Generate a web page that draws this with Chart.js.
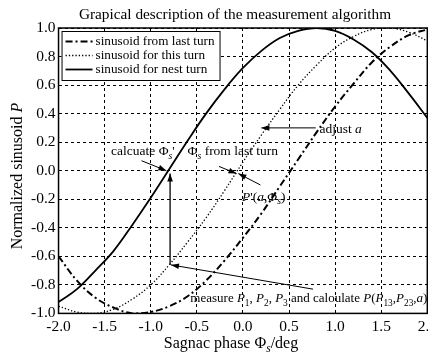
<!DOCTYPE html>
<html>
<head>
<meta charset="utf-8">
<script src="https://cdn.jsdelivr.net/npm/chart.js@4.4.0/dist/chart.umd.min.js"></script>
<style>
  html, body { margin: 0; padding: 0; background: #fff; overflow: hidden; }
  canvas { display: block; }
</style>
</head>
<body>
<canvas id="chart" width="441" height="352"></canvas>
<script>
// Sagnac phase (deg) sampled along the x axis
const phase = [-2.0, -1.8, -1.6, -1.4, -1.2, -1.0, -0.8, -0.6, -0.4, -0.2, 0.0,
               0.2, 0.4, 0.6, 0.8, 1.0, 1.2, 1.4, 1.6, 1.8, 2.0];
// values
const lastTurn = [-0.60, -0.77, -0.89, -0.96, -1.00, -0.99, -0.95, -0.88, -0.77, -0.63, -0.47,
                  -0.30, -0.11, 0.08, 0.27, 0.45, 0.61, 0.76, 0.87, 0.95, 0.99];
const thisTurn = [-0.95, -0.99, -1.00, -0.97, -0.90, -0.80, -0.66, -0.50, -0.33, -0.14, 0.06,
                  0.25, 0.43, 0.60, 0.74, 0.86, 0.94, 0.99, 1.00, 0.97, 0.91];
const nextTurn = [-0.92, -0.83, -0.70, -0.56, -0.38, -0.19, 0.01, 0.21, 0.40, 0.57, 0.72,
                  0.84, 0.93, 0.98, 1.00, 0.98, 0.92, 0.83, 0.70, 0.54, 0.37];
const seriesNames = ['sinusoid from last turn', 'sinusoid for this turn', 'sinusoid for nest turn'];
const xTickLabels = ['-2.0', '-1.5', '-1.0', '-0.5', '0.0', '0.5', '1.0', '1.5', '2.0'];
const yTickLabels = ['-1.0', '-0.8', '-0.6', '-0.4', '-0.2', '0.0', '0.2', '0.4', '0.6', '0.8', '1.0'];

const SERIF = '"Liberation Serif", "DejaVu Serif", serif';

// text pieces: '' plain, 'i' italic, 'sub' subscript, 'isub' italic subscript
const notes = [
    { at: [-1.43, 0.11], size: 13.5, parts: [['calcuate ', ''], ['Φ', ''], ['s', 'isub'], ["'", '']] },
    { at: [-0.60, 0.11], size: 13.5, parts: [['Φ', ''], ['s', 'isub'], [' from last turn', '']] },
    { at: [-0.01, -0.21], size: 13.5, parts: [['P', 'i'], ["'(", ''], ['a', 'i'], [',Φ', ''], ['s', 'isub'], [')', '']] },
    { at: [0.83, 0.265], size: 13.5, parts: [['adjust ', ''], ['a', 'i']] },
    { at: [-0.57, -0.92], size: 13, parts: [['measure ', ''], ['P', 'i'], ['1', 'sub'], [', ', ''], ['P', 'i'], ['2', 'sub'],
        [', ', ''], ['P', 'i'], ['3', 'sub'], [' and caloulate ', ''], ['P', 'i'], ['(', ''], ['P', 'i'], ['13', 'sub'],
        [',', ''], ['P', 'i'], ['23', 'sub'], [',', ''], ['a', 'i'], [')', '']] }
];
const arrows = [
    { from: [-1.10, 0.07], to: [-0.83, 0.0], w: 1 },
    { from: [-0.79, -0.66], to: [-0.79, -0.02], w: 1.3 },
    { from: [-0.26, 0.03], to: [-0.07, -0.02], w: 1 },
    { from: [0.19, -0.10], to: [-0.05, -0.02], w: 1 },
    { from: [0.79, 0.30], to: [0.20, 0.30], w: 1 },
    { from: [0.76, -0.83], to: [-0.78, -0.66], w: 1 }
];

function drawRich(ctx, parts, x, y, size, align) {
    const fontOf = (st) => {
        const s = st.includes('sub') ? size * 0.72 : size;
        return (st.includes('i') ? 'italic ' : '') + s + 'px ' + SERIF;
    };
    let total = 0;
    parts.forEach(([t, st]) => { ctx.font = fontOf(st); total += ctx.measureText(t).width; });
    let cx = align === 'center' ? x - total / 2 : x;
    ctx.textAlign = 'left';
    ctx.textBaseline = 'alphabetic';
    parts.forEach(([t, st]) => {
        ctx.font = fontOf(st);
        const dy = st.includes('sub') ? size * 0.28 : 0;
        ctx.fillText(t, cx, y + dy);
        cx += ctx.measureText(t).width;
    });
}

function arrowHead(ctx, x1, y1, x2, y2) {
    const ang = Math.atan2(y2 - y1, x2 - x1);
    const len = 8, half = 2.8;
    ctx.beginPath();
    ctx.moveTo(x2, y2);
    ctx.lineTo(x2 - len * Math.cos(ang) + half * Math.sin(ang), y2 - len * Math.sin(ang) - half * Math.cos(ang));
    ctx.lineTo(x2 - len * Math.cos(ang) - half * Math.sin(ang), y2 - len * Math.sin(ang) + half * Math.cos(ang));
    ctx.closePath();
    ctx.fill();
}

const decorations = {
    id: 'decorations',
    afterDatasetsDraw(chart) {
        const { ctx, chartArea: a, scales: { x, y } } = chart;
        ctx.save();
        ctx.fillStyle = '#000';
        ctx.strokeStyle = '#000';

        // arrows
        arrows.forEach(ar => {
            const x1 = x.getPixelForValue(ar.from[0]), y1 = y.getPixelForValue(ar.from[1]);
            const x2 = x.getPixelForValue(ar.to[0]), y2 = y.getPixelForValue(ar.to[1]);
            ctx.lineWidth = ar.w;
            ctx.setLineDash([]);
            ctx.beginPath();
            ctx.moveTo(x1, y1);
            ctx.lineTo(x2, y2);
            ctx.stroke();
            arrowHead(ctx, x1, y1, x2, y2);
        });

        // annotation texts
        notes.forEach(n => {
            drawRich(ctx, n.parts, x.getPixelForValue(n.at[0]), y.getPixelForValue(n.at[1]), n.size, 'left');
        });

        // legend box in the upper left corner
        const lx = a.left + 3, ly = a.top + 3, lw = 158, lh = 49;
        ctx.fillStyle = '#fff';
        ctx.fillRect(lx, ly, lw, lh);
        ctx.lineWidth = 1;
        ctx.strokeRect(lx + 0.5, ly + 0.5, lw, lh);
        chart.data.datasets.forEach((ds, i) => {
            const ry = ly + 10.5 + i * 14;
            ctx.strokeStyle = '#000';
            ctx.lineWidth = ds.borderWidth;
            ctx.setLineDash(ds.borderDash || []);
            ctx.beginPath();
            ctx.moveTo(lx + 4, ry);
            ctx.lineTo(lx + 31, ry);
            ctx.stroke();
            ctx.setLineDash([]);
            ctx.fillStyle = '#000';
            ctx.font = '13.2px ' + SERIF;
            ctx.textBaseline = 'middle';
            ctx.textAlign = 'left';
            ctx.fillText(ds.label, lx + 34, ry);
        });
        ctx.restore();
    },
    afterDraw(chart) {
        const { ctx, chartArea: a } = chart;
        ctx.save();
        ctx.strokeStyle = '#000';
        ctx.lineWidth = 1.5;
        ctx.setLineDash([]);
        ctx.strokeRect(a.left, a.top, a.right - a.left, a.bottom - a.top);

        ctx.fillStyle = '#000';
        drawRich(ctx, [['Grapical description of the measurement algorithm', '']], 235, 19, 15.3, 'center');
        drawRich(ctx, [['Sagnac phase Φ', ''], ['s', 'isub'], ['/deg', '']], 231, 348, 16, 'center');
        ctx.translate(22, 176);
        ctx.rotate(-Math.PI / 2);
        drawRich(ctx, [['Normalized sinusoid ', ''], ['P', 'i']], 0, 0, 16, 'center');
        ctx.restore();
    }
};

const styles = [
    { borderWidth: 2, borderDash: [7, 3, 2, 3] },
    { borderWidth: 1.3, borderDash: [1.3, 2] },
    { borderWidth: 1.8, borderDash: [] }
];
const datasets = [lastTurn, thisTurn, nextTurn].map((vals, i) => ({
    label: seriesNames[i],
    data: phase.map((p, j) => ({ x: p, y: vals[j] })),
    borderColor: '#000',
    borderWidth: styles[i].borderWidth,
    borderDash: styles[i].borderDash,
    pointRadius: 0,
    tension: 0.4,
    fill: false
}));

new Chart(document.getElementById('chart'), {
    type: 'line',
    data: { datasets: datasets },
    options: {
        responsive: false,
        animation: false,
        devicePixelRatio: 1,
        layout: { padding: { left: 28, top: 28, right: 0, bottom: 12 } },
        plugins: { legend: { display: false }, tooltip: { enabled: false } },
        scales: {
            x: {
                type: 'linear',
                min: -2, max: 2,
                ticks: {
                    stepSize: 0.5,
                    padding: 4,
                    color: '#000',
                    font: { family: SERIF, size: 15.5 },
                    maxRotation: 0,
                    callback: (v, i) => xTickLabels[i]
                },
                grid: { color: '#000', lineWidth: 1, drawTicks: false },
                border: { display: false, dash: [3, 3] }
            },
            y: {
                min: -1, max: 1,
                ticks: {
                    stepSize: 0.2,
                    padding: 3,
                    color: '#000',
                    font: { family: SERIF, size: 15.5 },
                    callback: (v, i) => yTickLabels[i]
                },
                grid: { color: '#000', lineWidth: 1, drawTicks: false },
                border: { display: false, dash: [3, 3] }
            }
        }
    },
    plugins: [decorations]
});
</script>
</body>
</html>
